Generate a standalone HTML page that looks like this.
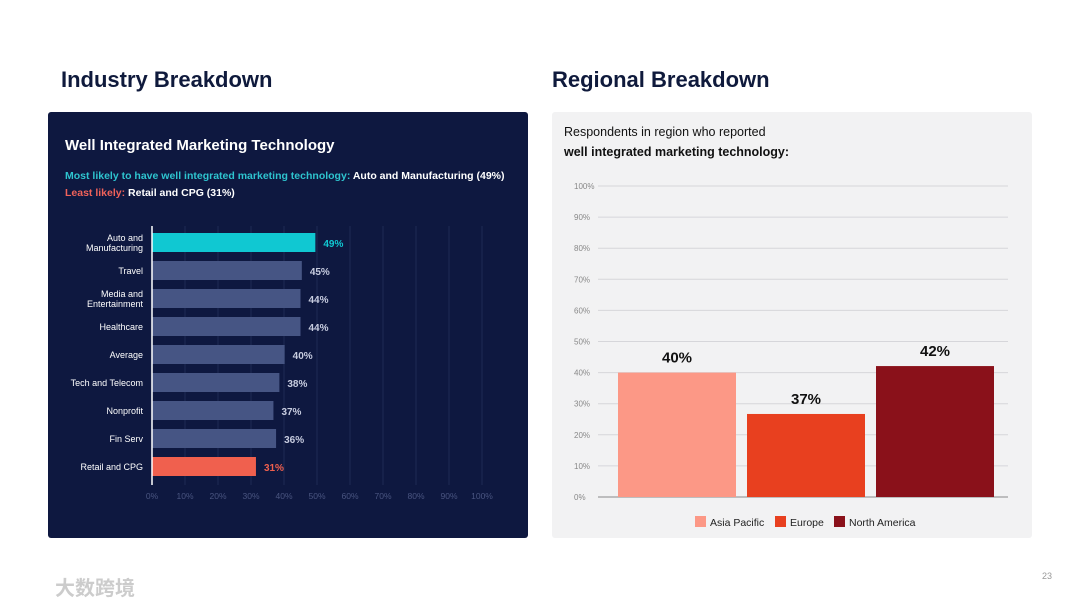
<!DOCTYPE html>
<html><head><meta charset="utf-8"><style>
body{margin:0;width:1080px;height:608px;background:#fff;position:relative;overflow:hidden;font-family:"Liberation Sans",sans-serif}
.h{position:absolute;font-weight:bold;font-size:22px;color:#0f1a3c}
</style></head><body>
<div class="h" style="left:61px;top:67px">Industry Breakdown</div>
<div class="h" style="left:552px;top:67px">Regional Breakdown</div>
<svg width="1080" height="608" style="position:absolute;left:0;top:0" id="s" font-family="Liberation Sans, sans-serif">
<rect x="48" y="112" width="480" height="426" rx="3" fill="#0e1840"/>
<text x="65" y="150" font-size="15" font-weight="bold" fill="#fff">Well Integrated Marketing Technology</text>
<text x="65" y="179" font-size="10.5" font-weight="bold" fill="#2ec4cf">Most likely to have well integrated marketing technology: <tspan fill="#fff">Auto and Manufacturing (49%)</tspan></text>
<text x="65" y="196" font-size="10.5" font-weight="bold" fill="#f0625a">Least likely: <tspan fill="#fff">Retail and CPG (31%)</tspan></text>
<rect x="552" y="112" width="480" height="426" rx="3" fill="#f2f2f3"/>
<text x="564" y="136" font-size="12.5" fill="#111">Respondents in region who reported</text>
<text x="564" y="156" font-size="12.5" font-weight="bold" fill="#111">well integrated marketing technology:</text>
<text x="1052" y="579" font-size="9" fill="#999" text-anchor="end">23</text>
<text x="55" y="595" font-size="20" font-weight="bold" fill="#ccc" font-family="Liberation Sans, Noto Sans CJK SC, sans-serif">大数跨境</text>
</svg>
<script>
const indCats=["Auto and|Manufacturing","Travel","Media and|Entertainment","Healthcare","Average","Tech and Telecom","Nonprofit","Fin Serv","Retail and CPG"];
const indVals=[49.5,45.4,45,45,40.2,38.6,36.8,37.6,31.5];
const indLabels=["49%","45%","44%","44%","40%","38%","37%","36%","31%"];
const indTicks=[0,10,20,30,40,50,60,70,80,90,100];
const regCats=["Asia Pacific","Europe","North America"];
const regVals=[40,26.7,42.1];
const regLabels=["40%","37%","42%"];
const regTicks=[0,10,20,30,40,50,60,70,80,90,100];
const NS="http://www.w3.org/2000/svg",s=document.getElementById('s');
function el(t,a,txt){const e=document.createElementNS(NS,t);for(const k in a)e.setAttribute(k,a[k]);if(txt!=null)e.textContent=txt;s.appendChild(e);return e;}
// industry
const xI=v=>152+v*3.3, yI=i=>233+i*28;
indTicks.forEach(t=>{
 if(t>0){const g=el('line',{x1:xI(t),x2:xI(t),y1:226,y2:485,stroke:'#1f2a55','stroke-width':1});
 }
 const l=el('text',{x:xI(t),y:499,'font-size':8.5,fill:'#4a5580','text-anchor':'middle'},t+'%');
 
});
indCats.forEach((c,i)=>{
 const col=i==0?'#10c8d2':i==indCats.length-1?'#f0604e':'#465584';
 const b=el('rect',{x:xI(0),y:yI(i),width:xI(indVals[i])-xI(0),height:19,fill:col});
 
 const lines=c.split('|');
 lines.forEach((ln,j)=>{const t=el('text',{x:143,y:yI(i)+13+(lines.length>1?(j*10-5):0),'font-size':9,fill:'#fff','text-anchor':'end'},ln);
 });
 const v=el('text',{x:xI(indVals[i])+8,y:yI(i)+14,'font-size':10,'font-weight':'bold',fill:i==0?'#10c8d2':i==indCats.length-1?'#f0604e':'#c8cde0'},indLabels[i]);
 
});
const ax=el('line',{x1:152,x2:152,y1:226,y2:485,stroke:'#fff','stroke-width':1.5});

// regional
const yR=v=>497-v*3.11;
regTicks.forEach(t=>{
 const g=el('line',{x1:598,x2:1008,y1:yR(t),y2:yR(t),stroke:t==0?'#888':'#d6d6da','stroke-width':1});
 
 const l=el('text',{x:574,y:yR(t)+3,'font-size':8,fill:'#888'},t+'%');
 
});
const regCols=['#fc9886','#e8401f','#8a111a'];
regCats.forEach((c,i)=>{
 const x=618+i*129;
 const b=el('rect',{x:x,y:yR(regVals[i]),width:118,height:yR(0)-yR(regVals[i]),fill:regCols[i]});
 
 const v=el('text',{x:x+59,y:yR(regVals[i])-10,'font-size':15,'font-weight':'bold',fill:'#111','text-anchor':'middle'},regLabels[i]);
 
});
const lx=[695,775,834];
regCats.forEach((c,i)=>{
 const r=el('rect',{x:lx[i],y:516,width:11,height:11,fill:regCols[i]});
 
 const t=el('text',{x:lx[i]+15,y:526,'font-size':10.5,fill:'#222'},c);
 
});
</script>
</body></html>
